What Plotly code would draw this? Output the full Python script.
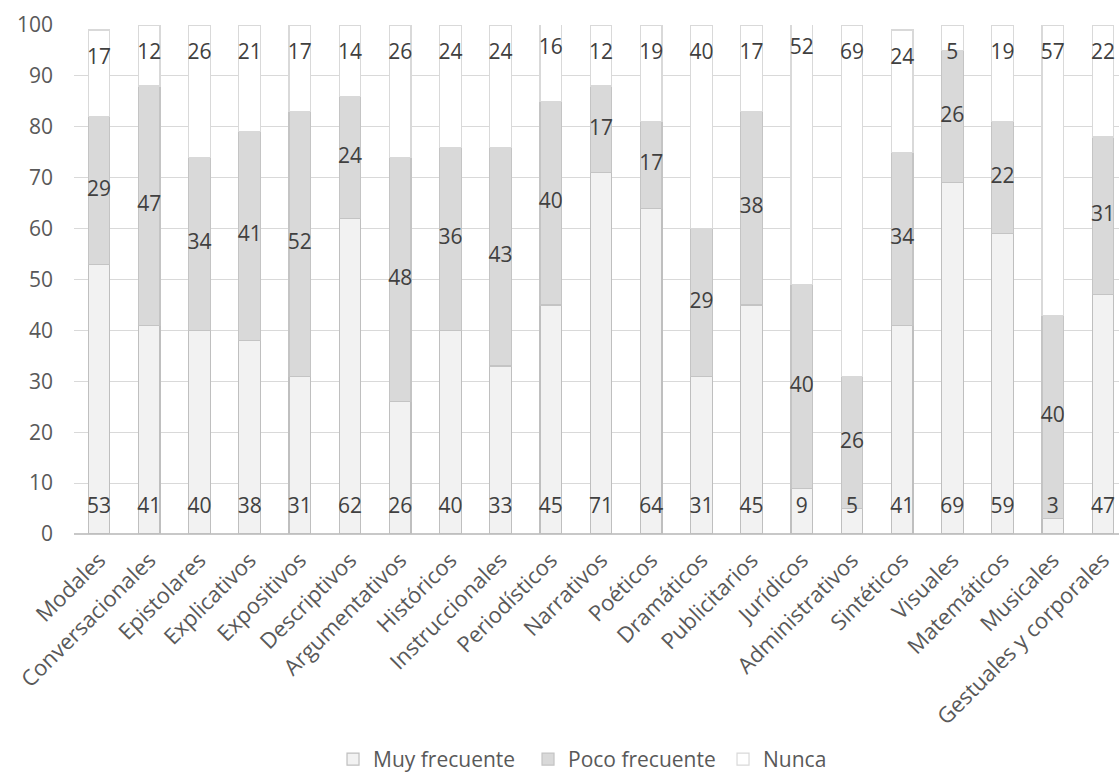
import plotly.graph_objects as go

categories = ["Modales", "Conversacionales", "Epistolares", "Explicativos", "Expositivos",
              "Descriptivos", "Argumentativos", "Históricos", "Instruccionales", "Periodísticos",
              "Narrativos", "Poéticos", "Dramáticos", "Publicitarios", "Jurídicos",
              "Administrativos", "Sintéticos", "Visuales", "Matemáticos", "Musicales",
              "Gestuales y corporales"]
muy_frecuente = [53, 41, 40, 38, 31, 62, 26, 40, 33, 45, 71, 64, 31, 45, 9, 5, 41, 69, 59, 3, 47]
poco_frecuente = [29, 47, 34, 41, 52, 24, 48, 36, 43, 40, 17, 17, 29, 38, 40, 26, 34, 26, 22, 40, 31]
nunca = [17, 12, 26, 21, 17, 14, 26, 24, 24, 16, 12, 19, 40, 17, 52, 69, 24, 5, 19, 57, 22]
y_ticks = [0, 10, 20, 30, 40, 50, 60, 70, 80, 90, 100]

FONT = "Open Sans"
LABEL_COLOR = "#404040"
TICK_COLOR = "#595959"

fig = go.Figure()

series = [
    ("Muy frecuente", muy_frecuente, "#f2f2f2", "#bfbfbf"),
    ("Poco frecuente", poco_frecuente, "#d9d9d9", "#c4c4c4"),
    ("Nunca", nunca, "#ffffff", "#d9d9d9"),
]
for name, vals, fill, edge in series:
    fig.add_trace(go.Bar(
        x=categories, y=vals, name=name,
        marker=dict(color=fill, line=dict(color=edge, width=1.2)),
        hoverinfo="skip",
    ))

# data labels: near the base for the first series, centred for the second,
# near the top end of the stack for the third
base_pos = [5.1 for _ in muy_frecuente]
mid_pos = [m + p / 2 for m, p in zip(muy_frecuente, poco_frecuente)]
top_pos = [m + p + n - 5.6 for m, p, n in zip(muy_frecuente, poco_frecuente, nunca)]
for ys, vals in [(base_pos, muy_frecuente), (mid_pos, poco_frecuente), (top_pos, nunca)]:
    fig.add_trace(go.Scatter(
        x=categories, y=ys, mode="text", text=[str(v) for v in vals],
        textfont=dict(family=FONT, size=21, color=LABEL_COLOR),
        showlegend=False, hoverinfo="skip", cliponaxis=False,
    ))

fig.update_layout(
    width=1119, height=776,
    barmode="stack", bargap=0.57,
    plot_bgcolor="white", paper_bgcolor="white",
    margin=dict(l=74, r=0, t=25, b=242, autoexpand=False),
    font=dict(family=FONT, color=TICK_COLOR),
    legend=dict(orientation="h", x=0.559, xanchor="center", xref="container",
                y=-0.443, yanchor="middle", yref="paper",
                font=dict(family=FONT, size=21, color=TICK_COLOR),
                traceorder="normal", tracegroupgap=0, itemwidth=30,
                entrywidth=150, entrywidthmode="pixels"),
    xaxis=dict(range=[-0.5, 20.32], tickangle=-45, showgrid=False,
               tickfont=dict(family=FONT, size=22, color=TICK_COLOR),
               showline=False, ticks="", ticklabelstandoff=8),
    yaxis=dict(range=[0, 100], tickvals=y_ticks, showgrid=True, gridcolor="#d9d9d9",
               gridwidth=1.3, zeroline=True, zerolinecolor="#c8c8c8", zerolinewidth=1.5,
               tickfont=dict(family=FONT, size=21, color=TICK_COLOR), ticklabelstandoff=20),
)

fig.write_html("out.html")
